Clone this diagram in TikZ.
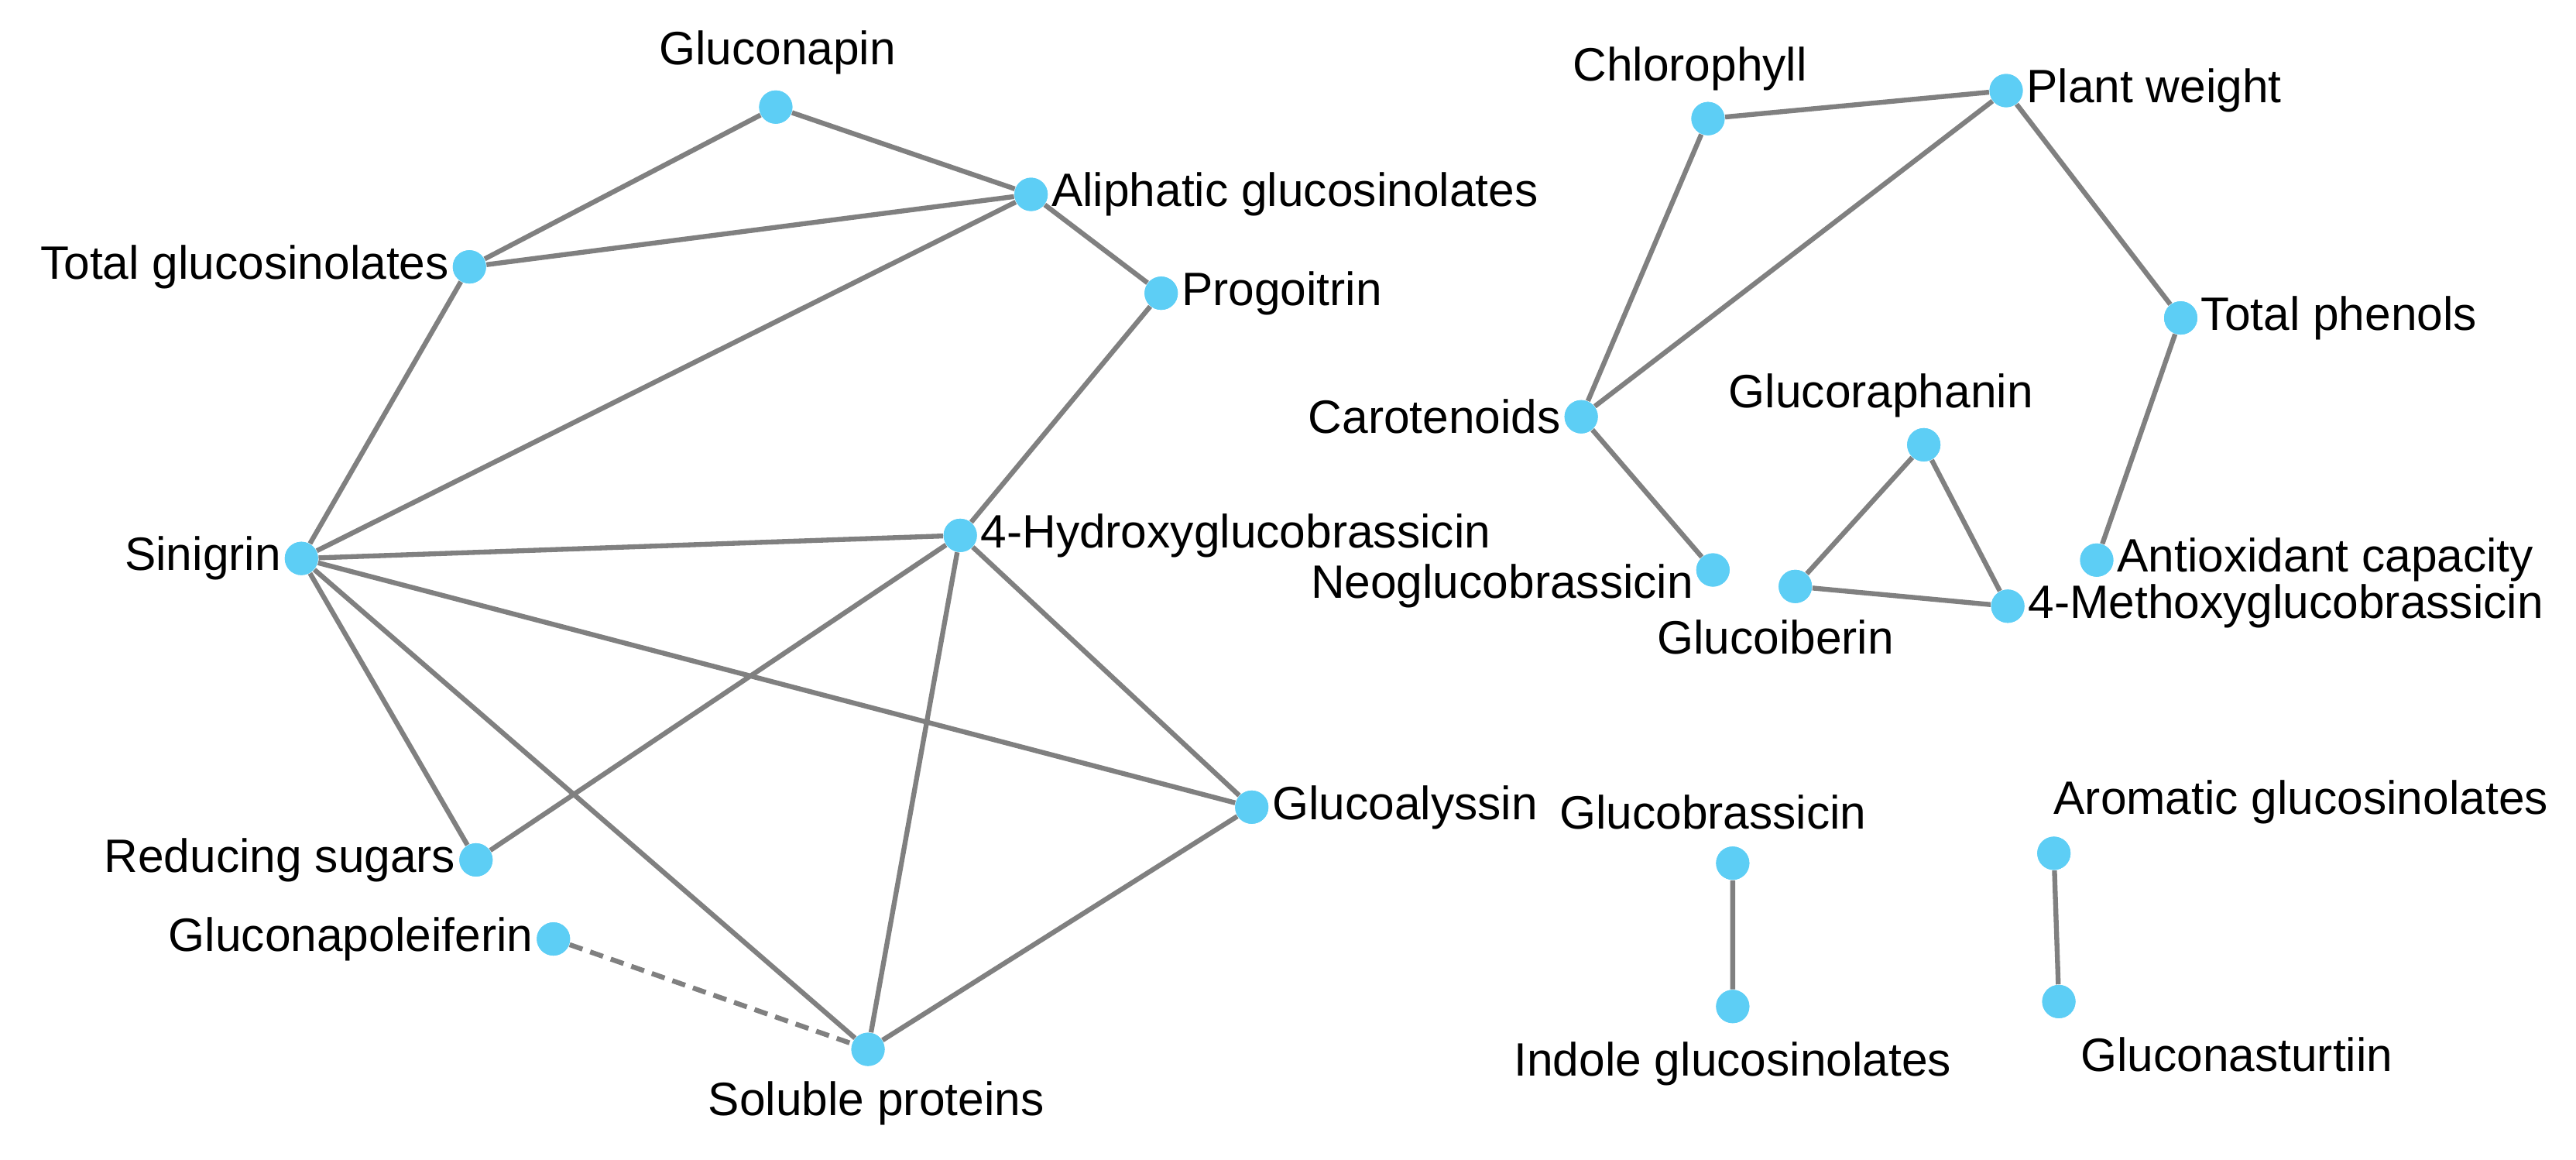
\documentclass[tikz,border=0pt]{standalone}
\usepackage{fontspec}
\setmainfont{Liberation Sans}
\begin{document}
\begin{tikzpicture}[x=0.02127cm,y=-0.02127cm,
  v/.style={circle,fill=nodeblue,draw=none,minimum size=0.43cm,inner sep=0pt},
  e/.style={draw=edgegray,line width=1.8pt},
  lab/.style={font=\fontsize{17.2}{19}\selectfont,inner sep=1pt}]
\definecolor{nodeblue}{RGB}{93,206,245}
\definecolor{edgegray}{RGB}{128,128,128}
\useasboundingbox (0,0) rectangle (1564,704);
% nodes
\node[v] (gnap) at (471,65) {};
\node[v] (ali) at (626,118) {};
\node[v] (tot) at (285,162) {};
\node[v] (pro) at (705,178) {};
\node[v] (sin) at (183,339) {};
\node[v] (hyd) at (583,325) {};
\node[v] (gal) at (760,490) {};
\node[v] (red) at (289,522) {};
\node[v] (gpl) at (336,570) {};
\node[v] (sol) at (527,637) {};
\node[v] (chl) at (1037,72) {};
\node[v] (pw) at (1218,55) {};
\node[v] (tph) at (1324,193) {};
\node[v] (car) at (960,253) {};
\node[v] (gra) at (1168,270) {};
\node[v] (neo) at (1040,346) {};
\node[v] (gib) at (1090,356) {};
\node[v] (met) at (1219,368) {};
\node[v] (ant) at (1273,340) {};
\node[v] (gbr) at (1052,524) {};
\node[v] (ind) at (1052,611) {};
\node[v] (aro) at (1247,518) {};
\node[v] (gna) at (1250,608) {};
% labels
\node[lab] (l1) at (472,32) {Gluconapin};
\node[lab,anchor=west] (l2) at (ali.east) {Aliphatic glucosinolates};
\node[lab,anchor=east] (l3) at (tot.west) {Total glucosinolates};
\node[lab,anchor=west] (l4) at (pro.east) {Progoitrin};
\node[lab,anchor=east] (l5) at (sin.west) {Sinigrin};
\node[lab,anchor=west] (l6) at (hyd.east) {4-Hydroxyglucobrassicin};
\node[lab,anchor=west] (l7) at (gal.east) {Glucoalyssin};
\node[lab,anchor=east] (l8) at (red.west) {Reducing sugars};
\node[lab,anchor=east] (l9) at (gpl.west) {Gluconapoleiferin};
\node[lab] (l10) at (532,670) {Soluble proteins};
\node[lab] (l11) at (1026,42) {Chlorophyll};
\node[lab,anchor=west] (l12) at (pw.east) {Plant weight};
\node[lab,anchor=west] (l13) at (tph.east) {Total phenols};
\node[lab,anchor=east] (l14) at (car.west) {Carotenoids};
\node[lab] (l15) at (1142,240) {Glucoraphanin};
\node[lab] (l16) at (912,356) {Neoglucobrassicin};
\node[lab] (l17) at (1078,387) {Glucoiberin};
\node[lab,anchor=west] (l18) at (met.east) {4-Methoxyglucobrassicin};
\node[lab,anchor=west] (l19) at (ant.east) {Antioxidant capacity};
\node[lab] (l20) at (1040,493) {Glucobrassicin};
\node[lab] (l21) at (1052,646) {Indole glucosinolates};
\node[lab] (l22) at (1397,487) {Aromatic glucosinolates};
\node[lab] (l23) at (1358,640) {Gluconasturtiin};
% edges
\path[e] (gnap)--(ali) (gnap)--(tot) (tot)--(ali) (ali)--(pro) (ali)--(sin)
 (tot)--(sin) (pro)--(hyd) (sin)--(hyd) (sin)--(gal) (sin)--(red) (sin)--(sol)
 (hyd)--(red) (hyd)--(sol) (hyd)--(gal) (gal)--(sol)
 (chl)--(pw) (chl)--(car) (pw)--(car) (pw)--(tph) (tph)--(ant) (car)--(neo)
 (gra)--(gib) (gra)--(met) (gib)--(met) (gbr)--(ind) (aro)--(gna);
\path[e,dash pattern=on 5pt off 3pt] (gpl)--(sol);
% nodes on top
\foreach \n in {gnap,ali,tot,pro,sin,hyd,gal,red,gpl,sol,chl,pw,tph,car,gra,neo,gib,met,ant,gbr,ind,aro,gna}
  \fill[nodeblue] (\n) circle (0.215cm);
\end{tikzpicture}
\end{document}
